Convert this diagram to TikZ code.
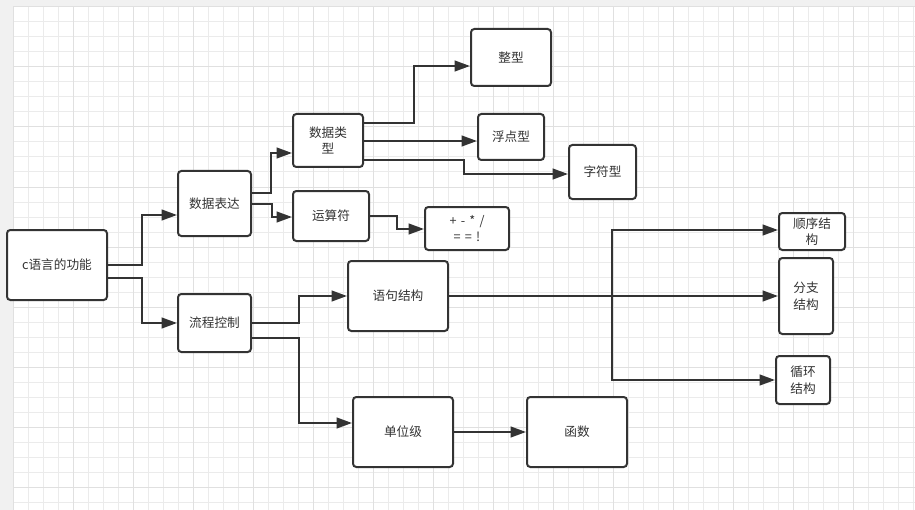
\documentclass[tikz,border=0pt]{standalone}
\usepackage{fontspec}
\setmainfont{Noto Sans CJK SC}
\usetikzlibrary{arrows.meta}
\definecolor{edge}{HTML}{333333}
\definecolor{minorg}{HTML}{EBEBEB}
\definecolor{majorg}{HTML}{E0E0E0}
\definecolor{outside}{HTML}{F1F1F1}
\tikzset{
  box/.style 2 args={draw=edge, line width=1.5pt, rounded corners=2.5pt, fill=white,
    minimum width=#1*0.75pt, minimum height=#2*0.75pt, inner sep=1pt,
    align=center, text=edge, font=\fontsize{9.5}{12.5}\selectfont},
  arr/.style={draw=edge, line width=1.5pt, -{Triangle[length=11.5pt,width=8pt]}}
}
\begin{document}
\begin{tikzpicture}[x=0.75pt,y=-0.75pt]
\useasboundingbox (0,0) rectangle (915,510);
\fill[outside] (0,0) rectangle (915,510);
\fill[white] (13,7) rectangle (915,510);
\foreach \x in {28,43,...,913} \draw[minorg, line width=0.75pt] (\x,7) -- (\x,510);
\foreach \y in {22,37,...,502} \draw[minorg, line width=0.75pt] (13,\y) -- (915,\y);
\foreach \x in {73,133,...,853} \draw[majorg, line width=0.75pt] (\x,7) -- (\x,510);
\foreach \y in {67,127,...,487} \draw[majorg, line width=0.75pt] (13,\y) -- (915,\y);
\draw[majorg, line width=0.75pt] (13,7) -- (13,510);
\draw[majorg, line width=0.75pt] (13,7) -- (915,7);

\node[box={100}{70}] (c)  at (57,265)    {c语言的功能};
\node[box={73}{65}]  (sj) at (214.5,203.5) {数据表达};
\node[box={73}{58}]  (lc) at (214.5,323) {流程控制};
\node[box={70}{53}]  (lx) at (328,140.5) {数据类\\型};
\node[box={76}{50}]  (ys) at (331,216)   {运算符};
\node[box={84}{43}]  (ops) at (467,228.5) {+\,\,-\,\,*\,\,/\\=\,\,=\,\,!};
\node[box={80}{57}]  (zx) at (511,57.5)  {整型};
\node[box={66}{46}]  (fd) at (511,137)   {浮点型};
\node[box={67}{54}]  (zf) at (602.5,172) {字符型};
\node[box={100}{70}] (jg) at (398,296)   {语句结构};
\node[box={100}{70}] (dw) at (403,432)   {单位级};
\node[box={100}{70}] (hs) at (577,432)   {函数};
\node[box={66}{37}]  (sx) at (812,231.5) {顺序结\\构};
\node[box={54}{76}]  (fz) at (806,296)   {分支\\结构};
\node[box={54}{48}]  (xh) at (803,380)   {循环\\结构};

\draw[arr] (c.east |- 0,265) -- (142,265) |- (sj.west |- 0,215);
\draw[arr] (c.east |- 0,278) -- (142,278) |- (lc.west |- 0,323);
\draw[arr] (sj.east |- 0,193) -- (271,193) |- (lx.west |- 0,153);
\draw[arr] (sj.east |- 0,204) -- (272,204) |- (ys.west |- 0,217);
\draw[arr] (ys.east |- 0,216) -- (397,216) |- (ops.west |- 0,229);
\draw[arr] (lx.east |- 0,123) -- (414,123) |- (zx.west |- 0,66);
\draw[arr] (lx.east |- 0,141) -- (fd.west |- 0,141);
\draw[arr] (lx.east |- 0,160) -- (464,160) |- (zf.west |- 0,174);
\draw[arr] (lc.east |- 0,323) -- (299,323) |- (jg.west |- 0,296);
\draw[arr] (lc.east |- 0,338) -- (299,338) |- (dw.west |- 0,423);
\draw[arr] (dw.east) -- (hs.west);
\draw[arr] (jg.east) -- (fz.west);
\draw[arr] (jg.east) -- (612,296) |- (sx.west |- 0,230);
\draw[arr] (jg.east) -- (612,296) |- (xh.west);
\end{tikzpicture}
\end{document}
